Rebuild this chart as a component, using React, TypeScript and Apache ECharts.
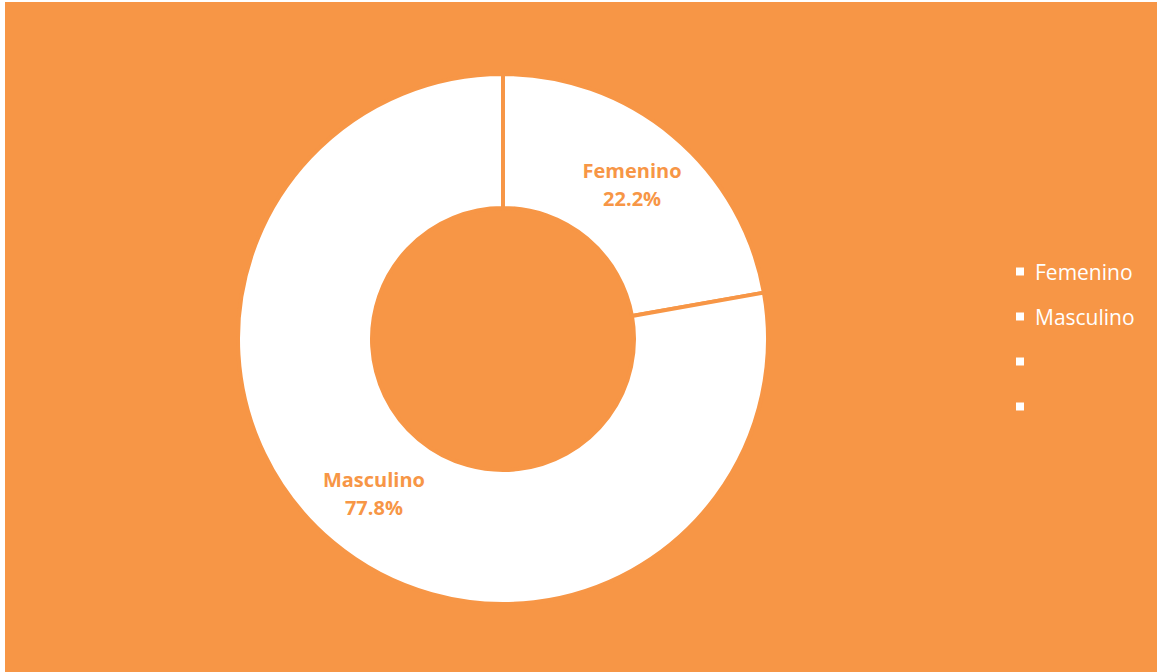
import React, { useEffect, useRef } from "react";
import * as echarts from "echarts";

const categories = ["Femenino", "Masculino", " ", "  "];
const values = [22.2, 77.8, 0, 0];
const showLabel = [true, true, false, false];

const ORANGE = "#F79646";

export default function App() {
  const ref = useRef<HTMLDivElement>(null);
  useEffect(() => {
    if (!ref.current) return;
    const chart = echarts.init(ref.current, undefined, { renderer: "svg" });
    chart.setOption({
      animation: false,
      backgroundColor: ORANGE,
      legend: {
        orient: "vertical",
        left: 1004,
        top: 254,
        data: categories,
        icon: "path://M0,0h10v10h-10z",
        itemWidth: 20,
        itemHeight: 10,
        itemGap: 24,
        symbolKeepAspect: true,
        selectedMode: false,
        textStyle: { color: "#ffffff", fontSize: 21, fontFamily: "Open Sans" },
      },
      series: [
        {
          type: "pie",
          center: [498, 337],
          radius: [131, 265],
          startAngle: 90,
          clockwise: true,
          silent: true,
          itemStyle: { color: "#ffffff", borderColor: ORANGE, borderWidth: 4 },
          label: {
            show: true,
            position: "inside",
            formatter: (p: any) => `${p.name}\n${p.value}%`,
            color: ORANGE,
            fontSize: 20,
            fontWeight: "bold",
            fontFamily: "Open Sans",
            lineHeight: 28,
          },
          labelLine: { show: false },
          emphasis: { disabled: true },
          data: categories.map((name, i) => ({
            name,
            value: values[i],
            label: { show: showLabel[i] },
          })),
        },
      ],
    });
    return () => chart.dispose();
  }, []);
  return (
    <div
      ref={ref}
      style={{ position: "fixed", left: 5, top: 2, width: 1152, height: 670 }}
    />
  );
}
